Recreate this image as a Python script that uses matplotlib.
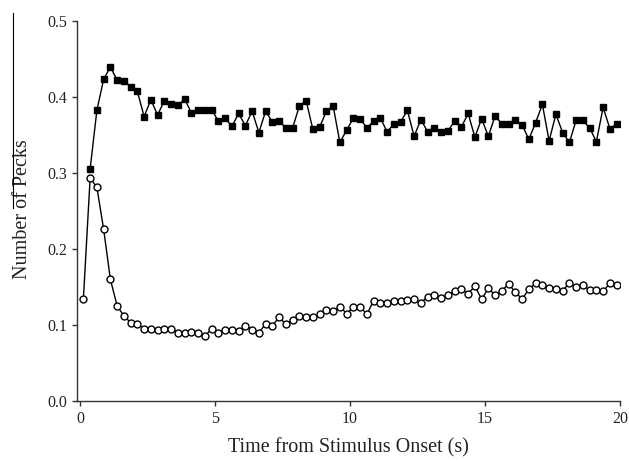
"""Pecks over time after stimulus onset: two conditions."""

import matplotlib
matplotlib.use("Agg")
import matplotlib.pyplot as plt
from matplotlib.lines import Line2D
import numpy as np

# ── data ───────────────────────────────────────────────────────────────────────
bin_width = 0.25
n_bins = 80
time_s = np.arange(n_bins) * bin_width + bin_width / 2   # bin centres 0.125 .. 19.875

# filled squares: no value in the first bin
pecks_square = [
    0.305, 0.382, 0.423, 0.439, 0.422, 0.421, 0.413, 0.407, 0.374, 0.396,
    0.376, 0.395, 0.390, 0.389, 0.397, 0.379, 0.382, 0.382, 0.383, 0.368,
    0.372, 0.361, 0.378, 0.362, 0.381, 0.353, 0.381, 0.367, 0.368, 0.359,
    0.359, 0.388, 0.395, 0.357, 0.360, 0.381, 0.388, 0.340, 0.356, 0.372,
    0.371, 0.359, 0.368, 0.372, 0.354, 0.364, 0.367, 0.382, 0.348, 0.370,
    0.354, 0.359, 0.354, 0.355, 0.368, 0.360, 0.378, 0.347, 0.371, 0.348,
    0.375, 0.364, 0.364, 0.369, 0.363, 0.344, 0.366, 0.390, 0.342, 0.377,
    0.353, 0.340, 0.369, 0.369, 0.359, 0.341, 0.386, 0.358, 0.364,
]

# open circles
pecks_circle = [
    0.134, 0.293, 0.281, 0.226, 0.160, 0.125, 0.112, 0.103, 0.101, 0.095,
    0.095, 0.093, 0.095, 0.095, 0.090, 0.090, 0.091, 0.090, 0.085, 0.095,
    0.090, 0.093, 0.093, 0.092, 0.099, 0.094, 0.090, 0.101, 0.099, 0.110,
    0.101, 0.107, 0.112, 0.111, 0.110, 0.114, 0.120, 0.118, 0.124, 0.115,
    0.123, 0.124, 0.114, 0.132, 0.129, 0.129, 0.132, 0.132, 0.133, 0.134,
    0.129, 0.137, 0.139, 0.135, 0.139, 0.145, 0.147, 0.141, 0.151, 0.134,
    0.148, 0.139, 0.145, 0.154, 0.143, 0.134, 0.147, 0.155, 0.152, 0.149,
    0.147, 0.145, 0.155, 0.150, 0.152, 0.146, 0.146, 0.144, 0.155, 0.152,
]

x_ticks = [0, 5, 10, 15, 20]
y_ticks = [0.0, 0.1, 0.2, 0.3, 0.4, 0.5]

plt.rcParams["font.family"] = ["Liberation Serif", "DejaVu Serif"]
axis_grey = "#333333"

fig = plt.figure(figsize=(6.29, 4.61), dpi=100)
ax = fig.add_axes([77.3 / 629, 1 - 401 / 461, (620 - 77.3) / 629, (401 - 20.7) / 461])

ax.plot(time_s, pecks_circle, color="black", lw=1.0, marker="o", ms=5.0,
        mfc="white", mec="black", mew=1.0, zorder=3)
ax.plot(time_s[1:], pecks_square, color="black", lw=1.0, marker="s", ms=4.3,
        mfc="black", mec="black", zorder=4)

ax.set_xlim(-0.1, 20)
ax.set_ylim(0, 0.5)
ax.set_xticks(x_ticks)
ax.set_xticklabels([str(t) for t in x_ticks])
ax.set_yticks(y_ticks)
ax.set_yticklabels([f"{t:.1f}" for t in y_ticks])

for side in ("top", "right"):
    ax.spines[side].set_visible(False)
for side in ("left", "bottom"):
    ax.spines[side].set_color(axis_grey)
    ax.spines[side].set_linewidth(1.0)
ax.tick_params(direction="out", length=3.5, width=1.0, colors=axis_grey,
               labelsize=11.5, labelcolor="#222222", pad=4)

ax.set_xlabel("Time from Stimulus Onset (s)", fontsize=14.5, color="#222222", labelpad=8)
ax.set_ylabel("Number of Pecks", fontsize=14.5, color="#222222")
ax.yaxis.set_label_coords(-0.084, 0.505)

# stray rule left of the y label in the source figure
fig.add_artist(Line2D([13 / 629, 13 / 629], [1 - 13 / 461, 1 - 208 / 461],
                      color="black", lw=0.8))

fig.savefig("out.png", dpi=100, facecolor="white")
plt.close(fig)
